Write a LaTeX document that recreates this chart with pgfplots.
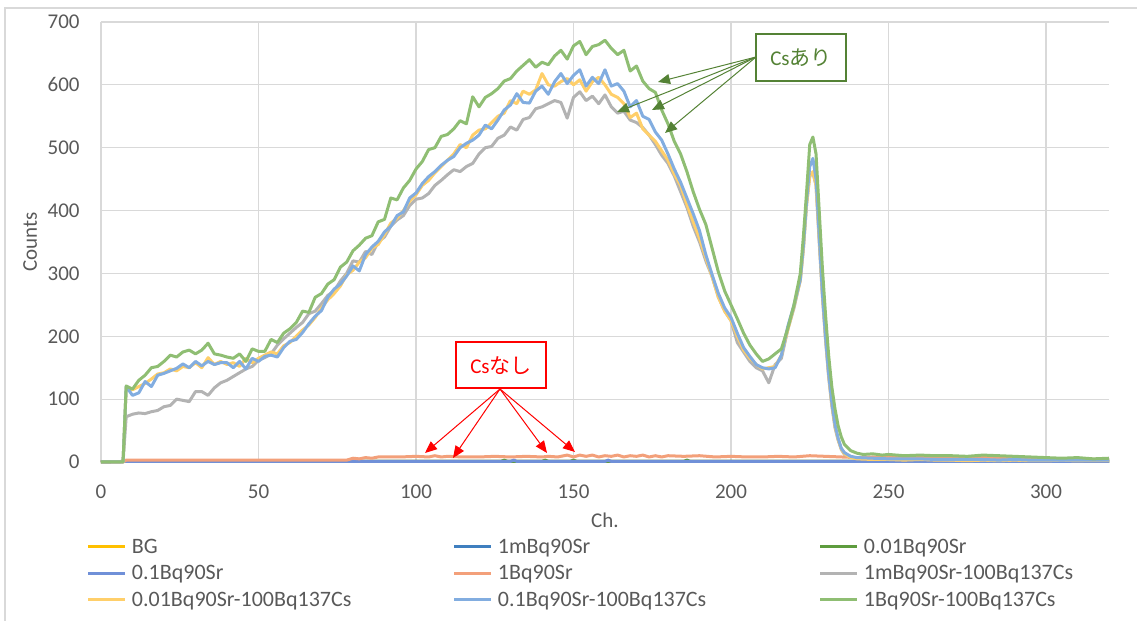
\documentclass[border=0pt]{standalone}
\usepackage{pgfplots}
\pgfplotsset{compat=1.18}
\usetikzlibrary{arrows.meta}
\usepackage{fontspec}
\setmainfont{Carlito}
\newfontfamily\cjk{Noto Sans CJK JP}
\definecolor{gridgray}{HTML}{D9D9D9}
\definecolor{labgray}{HTML}{595959}
\definecolor{cBG}{HTML}{FFC000}
\definecolor{cA}{HTML}{3F7FBF}
\definecolor{cB}{HTML}{5E9C3E}
\definecolor{cC}{HTML}{7090D8}
\definecolor{cD}{HTML}{F3A07A}
\definecolor{cE}{HTML}{B3B3B3}
\definecolor{cF}{HTML}{FFCF6A}
\definecolor{cG}{HTML}{82ADE0}
\definecolor{cH}{HTML}{8FBE73}
\definecolor{annG}{HTML}{548235}
\newcommand{\lb}[1]{\makebox[163pt][l]{\hspace{2.5pt}#1}}
\begin{document}
\begin{tikzpicture}
\path[use as bounding box] (0,0) rectangle (568.5pt,310.5pt);
\draw[gridgray, line width=0.6pt] (2.5pt,0pt) -- (2.5pt,306.5pt) -- (568.5pt,306.5pt);
\begin{axis}[
  at={(50.5pt,79.5pt)}, anchor=south west,
  scale only axis, width=504pt, height=220pt,
  xmin=0, xmax=320, ymin=0, ymax=700,
  xtick={0,50,...,300}, ytick={0,100,...,700},
  grid=major, major grid style={draw=gridgray, line width=0.6pt},
  axis line style={draw=none},
  major tick length=0pt,
  tick style={draw=none},
  clip=false,
  /pgf/number format/assume math mode=true,
  tick label style={font=\fontsize{10.5}{12}\selectfont, text=labgray, inner sep=0pt},
  yticklabel shift=10.5pt,
  xticklabel shift=11pt,
  xlabel={Ch.}, ylabel={Counts},
  label style={font=\fontsize{10.5}{12}\selectfont, text=labgray, inner sep=0pt},
  xlabel style={at={(axis description cs:0.5,-0.1489)}, anchor=base},
  ylabel style={at={(axis description cs:-0.0704,0.5)}, anchor=center},
  every axis plot/.append style={line width=1.5pt, line join=round, mark=none},
  legend columns=3,
  legend cell align=left,
  legend image code/.code={\draw[#1] (0pt,0pt) -- (18.5pt,0pt);},
  legend style={at={(axis description cs:-0.0139,-0.1633)}, anchor=north west,
    draw=none, fill=none, inner sep=0pt, outer sep=0pt, row sep=0pt, column sep=0pt,
    font=\fontsize{11}{13}\selectfont, text=labgray,
    nodes={inner sep=0pt, text height=9.825pt, text depth=3.325pt}},
]
\addplot[cBG] coordinates {(0,0)(8,1)(40,1)(80,1)(120,1)(160,1)(200,1)(240,1)(280,1)(320,1)};
\addlegendentry{\lb{BG}}
\addplot[cA] coordinates {(0,0)(8,1)(60,1)(100,1)(140,1)(180,1)(220,1)(260,1)(300,1)(320,1)};
\addlegendentry{\lb{1mBq90Sr}}
\addplot[cB] coordinates {(0,0)(8,1)(100,1)(127,1)(128,3)(129,1)(140,1)(141,3)(142,1)(149,1)(150,3)(151,1)(185,1)(186,3)(187,1)(250,1)(320,1)};
\addlegendentry{\lb{0.01Bq90Sr}}
\addplot[cC] coordinates {(0,0)(8,1)(60,1)(100,1)(130,1)(131,3)(132,1)(160,1)(161,3)(162,1)(200,1)(240,1)(280,1)(320,1)};
\addlegendentry{\lb{0.1Bq90Sr}}
\addplot[cD] coordinates {(0,0)(6,0)(7,0)(8,3)(20,3)(40,3)(60,3)(78,3)(80,6)(82,5)(84,7)(86,6)(88,8)(90,8)(95,8)(100,9)(104,8)(106,10)(108,8)(110,9)(115,8)(120,8)(125,9)(130,8)(135,9)(140,8)(142,9)(145,8)(148,11)(150,8)(152,11)(154,9)(156,11)(158,8)(160,10)(162,9)(164,11)(166,8)(168,10)(170,9)(172,11)(174,8)(176,10)(178,8)(180,10)(185,9)(190,10)(195,8)(200,9)(205,8)(210,8)(215,9)(220,8)(225,10)(230,9)(235,8)(240,7)(245,8)(250,7)(255,8)(260,7)(265,8)(270,7)(275,6)(280,7)(285,6)(290,6)(295,5)(300,5)(305,5)(310,4)(315,4)(320,4)};
\addlegendentry{\lb{1Bq90Sr}}
\addplot[cE] coordinates {(0,0)(2,0)(4,0)(6,0)(7,0)(8,72)(10,76)(12,78)(14,77)(16,80)(18,82)(20,88)(22,90)(24,100)(26,98)(28,96)(30,112)(32,112)(34,106)(36,118)(38,126)(40,130)(42,136)(44,142)(46,148)(48,152)(50,162)(52,166)(54,172)(56,186)(58,196)(60,205)(62,214)(64,222)(66,236)(68,240)(70,252)(72,265)(74,272)(76,288)(78,300)(80,320)(82,318)(84,335)(86,330)(88,350)(90,358)(92,375)(94,385)(96,392)(98,408)(100,418)(102,420)(104,427)(106,440)(108,448)(110,457)(112,465)(114,462)(116,470)(118,475)(120,490)(122,500)(124,502)(126,515)(128,520)(130,533)(132,528)(134,545)(136,548)(138,562)(140,565)(142,570)(144,575)(146,572)(148,547)(150,580)(152,589)(154,575)(156,582)(158,570)(160,584)(162,565)(164,555)(166,558)(168,544)(170,540)(172,532)(174,520)(176,505)(178,488)(180,475)(182,455)(184,430)(186,405)(188,375)(190,350)(192,320)(194,295)(196,262)(198,240)(200,225)(202,190)(204,175)(206,160)(208,150)(210,145)(212,126)(214,155)(216,165)(218,210)(220,245)(222,290)(223,340)(224,410)(225,455)(226,460)(227,440)(228,350)(229,265)(230,195)(231,135)(232,90)(233,55)(234,35)(235,20)(236,12)(238,8)(240,6)(245,5)(250,5)(255,4)(260,4)(265,4)(270,3)(275,4)(280,3)(285,3)(290,3)(295,3)(300,3)(305,3)(310,2)(315,3)(320,3)};
\addlegendentry{\lb{1mBq90Sr-100Bq137Cs}}
\addplot[cF] coordinates {(0,0)(2,0)(4,0)(6,0)(7,0)(8,118)(10,115)(12,120)(14,125)(16,132)(18,140)(20,142)(22,148)(24,145)(26,152)(28,150)(30,158)(32,150)(34,166)(36,155)(38,160)(40,155)(42,158)(44,152)(46,165)(48,158)(50,165)(52,170)(54,175)(56,172)(58,185)(60,190)(62,200)(64,210)(66,218)(68,230)(70,245)(72,258)(74,268)(76,280)(78,298)(80,305)(82,318)(84,325)(86,340)(88,346)(90,362)(92,380)(94,388)(96,400)(98,415)(100,425)(102,440)(104,448)(106,460)(108,470)(110,480)(112,490)(114,505)(116,500)(118,520)(120,528)(122,530)(124,540)(126,550)(128,555)(130,575)(132,570)(134,590)(136,585)(138,592)(140,618)(142,600)(144,598)(146,605)(148,610)(150,600)(152,608)(154,590)(156,605)(158,612)(160,600)(162,585)(164,580)(166,570)(168,548)(170,555)(172,530)(174,520)(176,510)(178,495)(180,480)(182,458)(184,440)(186,410)(188,382)(190,356)(192,325)(194,295)(196,262)(198,240)(200,225)(202,200)(204,178)(206,165)(208,155)(210,148)(212,150)(214,152)(216,170)(218,210)(220,248)(222,288)(223,340)(224,410)(225,455)(226,462)(227,440)(228,355)(229,268)(230,198)(231,138)(232,92)(233,58)(234,36)(235,21)(236,13)(238,7)(240,5)(245,4)(250,4)(255,3)(260,4)(265,3)(270,3)(275,2)(280,3)(285,2)(290,3)(295,2)(300,2)(305,3)(310,2)(315,2)(320,2)};
\addlegendentry{\lb{0.01Bq90Sr-100Bq137Cs}}
\addplot[cG] coordinates {(0,0)(2,0)(4,0)(6,0)(7,0)(8,120)(10,106)(12,110)(14,128)(16,120)(18,138)(20,141)(22,145)(24,149)(26,156)(28,150)(30,160)(32,153)(34,160)(36,155)(38,158)(40,158)(42,150)(44,160)(46,148)(48,165)(50,160)(52,168)(54,170)(56,167)(58,182)(60,192)(62,195)(64,206)(66,220)(68,232)(70,241)(72,262)(74,275)(76,283)(78,296)(80,312)(82,304)(84,330)(86,342)(88,351)(90,366)(92,375)(94,392)(96,398)(98,420)(100,428)(102,443)(104,454)(106,462)(108,472)(110,480)(112,486)(114,500)(116,507)(118,512)(120,520)(122,536)(124,530)(126,544)(128,560)(130,568)(132,586)(134,572)(136,571)(138,590)(140,598)(142,585)(144,605)(146,618)(148,602)(150,615)(152,624)(154,598)(156,612)(158,602)(160,624)(162,598)(164,602)(166,590)(168,565)(170,575)(172,550)(174,545)(176,525)(178,512)(180,490)(182,466)(184,445)(186,420)(188,395)(190,368)(192,330)(194,298)(196,268)(198,245)(200,230)(202,205)(204,182)(206,168)(208,155)(210,150)(212,148)(214,150)(216,170)(218,215)(220,250)(222,290)(223,345)(224,415)(225,470)(226,483)(227,450)(228,360)(229,270)(230,200)(231,140)(232,95)(233,60)(234,38)(235,22)(236,15)(238,9)(240,7)(245,6)(250,5)(255,5)(260,5)(265,4)(270,4)(275,4)(280,4)(285,3)(290,4)(295,3)(300,3)(305,3)(310,3)(315,3)(320,3)};
\addlegendentry{\lb{0.1Bq90Sr-100Bq137Cs}}
\addplot[cH] coordinates {(0,0)(2,0)(4,0)(6,0)(7,0)(8,121)(10,116)(12,130)(14,138)(16,150)(18,152)(20,160)(22,170)(24,167)(26,175)(28,178)(30,172)(32,178)(34,189)(36,172)(38,170)(40,167)(42,165)(44,172)(46,160)(48,180)(50,176)(52,176)(54,195)(56,190)(58,205)(60,212)(62,222)(64,240)(66,238)(68,262)(70,268)(72,283)(74,290)(76,310)(78,318)(80,336)(82,345)(84,356)(86,360)(88,382)(90,386)(92,420)(94,417)(96,436)(98,448)(100,466)(102,478)(104,497)(106,500)(108,518)(110,521)(112,530)(114,543)(116,538)(118,581)(120,565)(122,580)(124,586)(126,594)(128,606)(130,610)(132,622)(134,631)(136,640)(138,628)(140,636)(142,632)(144,646)(146,655)(148,641)(150,662)(152,669)(154,648)(156,661)(158,664)(160,671)(162,658)(164,648)(166,655)(168,622)(170,630)(172,606)(174,594)(176,588)(178,560)(180,538)(182,510)(184,490)(186,462)(188,430)(190,402)(192,378)(194,340)(196,302)(198,272)(200,250)(202,228)(204,205)(206,186)(208,172)(210,160)(212,164)(214,172)(216,180)(218,212)(220,250)(222,300)(223,360)(224,430)(225,505)(226,517)(227,490)(228,400)(229,310)(230,235)(231,170)(232,120)(233,85)(234,58)(235,40)(236,28)(238,18)(240,14)(242,12)(245,13)(248,11)(250,12)(255,10)(260,11)(265,10)(270,10)(275,9)(280,11)(285,10)(290,9)(295,8)(300,7)(305,6)(310,7)(315,5)(320,6)};
\addlegendentry{\lb{1Bq90Sr-100Bq137Cs}}
\end{axis}
\begin{scope}[x=0.5pt, y=-0.5pt, shift={(0pt,310.5pt)}]
  \draw[annG, line width=0.75pt, fill=white] (756,34) rectangle (846,81);
  \node[text=annG, font=\fontsize{10.5}{12}\selectfont] at (801,57.5) {Cs{\cjk あり}};
  \foreach \tx/\ty in {658/82, 617/112, 652/110, 665/133}
    \draw[annG, line width=0.5pt, -{Triangle[length=6pt,width=5pt]}] (756,57) -- (\tx,\ty);
  \draw[red, line width=0.75pt, fill=white] (456,342) rectangle (546,388);
  \node[text=red, font=\fontsize{10.5}{12}\selectfont] at (501,365.5) {Cs{\cjk なし}};
  \foreach \tx/\ty in {425/453, 453/458, 547/453, 575/452}
    \draw[red, line width=0.5pt, -{Triangle[length=6pt,width=5pt]}] (500,389) -- (\tx,\ty);
\end{scope}
\end{tikzpicture}
\end{document}
